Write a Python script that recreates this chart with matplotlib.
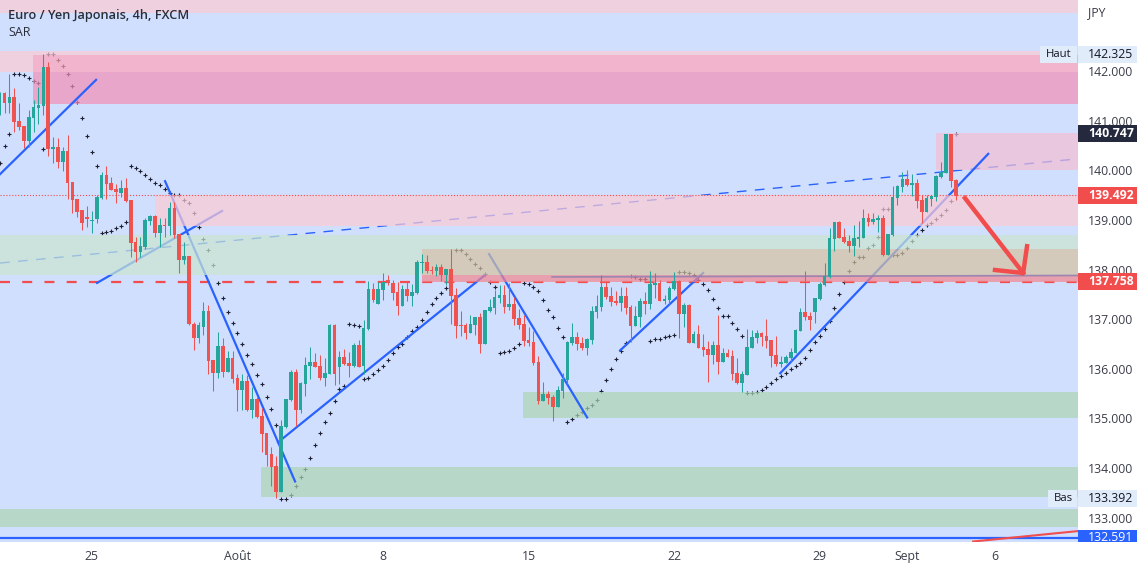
#
# Imports 
#
import numpy as np
import matplotlib.pyplot as plt

plt.rcParams['font.family'] = ['Open Sans', 'DejaVu Sans']

#
# Candle data, EUR/JPY prices, first candle has index -1
#
opens = [141.28,141.55,141.35,141.48,140.99,140.89,140.59,141.05,141.25,141.29,
         142.08,140.43,140.47,140.17,140.39,139.76,139.42,139.19,139.06,138.98,
         139.02,139.44,139.90,139.74,139.62,139.55,139.64,139.40,138.55,138.35,
         138.45,138.98,139.08,138.73,138.90,138.87,139.24,138.71,138.19,138.27,
         136.91,136.62,136.85,137.16,136.17,135.92,136.46,135.94,136.21,135.81,
         135.58,135.75,135.17,135.39,135.04,134.70,134.28,134.04,133.51,134.82,
         135.37,135.93,135.17,135.69,136.05,136.13,136.05,135.81,135.89,136.88,
         136.03,136.23,136.11,136.05,136.48,136.05,136.80,137.61,137.30,137.58,
         137.79,137.72,137.54,137.26,137.60,137.47,137.52,138.13,138.15,137.99,
         137.97,138.05,137.89,138.01,137.48,136.88,136.88,136.72,136.88,137.04,
         136.50,137.16,137.22,137.42,137.48,137.24,137.30,137.02,136.90,136.58,
         136.54,136.13,135.35,135.49,135.43,135.23,135.55,135.77,136.52,136.64,
         136.52,136.42,136.58,137.14,137.24,137.64,137.46,137.36,137.32,137.46,
         137.24,136.86,137.04,137.36,137.30,137.69,137.73,137.36,137.38,137.60,
         137.77,137.10,137.28,136.52,136.70,136.44,136.39,136.27,136.48,136.13,
         136.31,136.25,135.91,135.71,135.87,136.42,136.62,136.72,136.66,136.58,
         136.27,136.09,136.11,136.21,136.31,136.76,137.14,137.06,137.14,137.40,
         137.69,137.85,138.61,138.96,138.65,138.57,138.47,138.61,138.63,139.04,
         138.96,139.00,139.04,138.29,138.69,139.44,139.66,139.82,139.70,139.74,
         139.40,139.16,139.42,139.46,139.86,139.94,140.73,139.80]
closes = [141.55,141.36,141.48,140.97,140.87,140.59,141.07,141.27,141.31,142.08,
          140.43,140.47,140.17,140.39,139.74,139.40,139.16,138.93,139.02,139.00,
          139.46,139.90,139.72,139.60,139.56,139.64,139.38,138.53,138.35,138.47,
          138.99,139.08,138.73,138.90,138.87,139.24,138.69,138.19,138.27,136.91,
          136.62,136.88,137.16,136.16,135.92,136.46,135.94,136.21,135.80,135.58,
          135.75,135.17,135.39,135.02,134.69,134.26,134.02,133.51,134.84,135.39,
          135.93,135.17,135.71,136.07,136.13,136.03,135.81,135.91,136.88,135.89,
          136.23,136.09,136.05,136.48,136.03,136.82,137.61,137.38,137.61,137.75,
          137.72,137.53,137.26,137.60,137.47,137.54,138.15,138.15,137.97,137.97,
          138.05,137.89,138.01,137.47,136.86,136.86,136.72,136.90,137.04,136.50,
          137.18,137.24,137.44,137.48,137.24,137.30,137.00,136.88,136.56,136.52,
          136.11,135.35,135.49,135.41,135.23,135.57,135.79,136.54,136.64,136.50,
          136.42,136.60,137.16,137.26,137.64,137.44,137.34,137.32,137.46,137.22,
          136.86,137.06,137.36,137.30,137.71,137.73,137.36,137.40,137.62,137.77,
          137.10,137.28,136.52,136.70,136.42,136.38,136.27,136.48,136.13,136.31,
          136.23,135.89,135.71,135.89,136.44,136.64,136.72,136.64,136.56,136.25,
          136.09,136.13,136.23,136.34,136.78,137.14,137.04,136.98,137.42,137.70,
          137.87,138.63,138.96,138.63,138.55,138.47,138.63,138.65,139.04,138.96,
          139.02,139.04,138.29,138.71,139.46,139.68,139.82,139.70,139.74,139.38,
          139.16,139.44,139.48,139.88,139.96,140.73,139.78,139.49]
highs = [141.58,141.58,141.94,141.65,141.35,140.89,141.21,141.42,141.68,142.34,
         142.18,140.66,140.64,140.47,140.71,139.77,139.43,139.20,139.27,139.18,
         139.50,139.97,140.09,139.87,139.73,139.80,139.84,139.40,138.65,138.65,
         139.03,139.10,139.10,139.03,139.03,139.37,139.37,138.71,138.56,138.28,
         136.95,136.95,137.34,137.28,136.17,136.74,136.63,136.36,136.35,135.89,
         135.89,135.87,135.64,135.43,135.20,134.70,134.43,134.24,134.96,135.40,
         135.98,136.00,135.74,136.23,136.43,136.32,136.27,136.21,136.91,136.90,
         136.35,136.39,136.34,136.52,136.58,136.98,137.77,137.72,137.75,137.92,
         137.89,137.79,137.75,137.69,137.75,137.70,138.20,138.32,138.29,138.07,
         138.12,138.11,138.02,138.42,137.62,137.16,136.93,137.08,137.04,137.13,
         137.18,137.40,137.58,137.69,137.69,137.72,137.45,137.21,137.08,136.84,
         136.76,136.25,135.73,135.55,135.47,135.65,135.92,136.56,136.92,136.74,
         136.64,136.63,137.26,137.48,137.89,137.77,137.65,137.56,137.65,137.64,
         137.28,137.26,137.42,137.55,137.97,137.92,137.79,137.48,137.66,137.95,
         137.79,137.32,137.30,136.76,136.88,136.71,136.56,136.56,137.08,136.41,
         136.39,136.37,136.21,135.95,136.80,136.78,136.78,136.74,137.00,136.58,
         136.66,136.25,136.27,136.41,136.80,137.22,137.97,137.15,137.42,137.75,
         138.14,138.83,138.96,138.98,138.83,138.70,138.90,138.98,139.22,139.14,
         139.13,139.10,139.10,138.71,139.68,139.70,139.96,140.00,139.92,139.82,
         139.50,139.50,139.50,139.90,140.17,140.74,140.73,139.82]
lows = [141.11,141.15,141.15,140.78,140.81,140.44,140.47,140.78,140.94,141.11,
        140.29,140.14,140.05,139.98,139.43,139.13,139.06,138.79,138.86,138.74,
        138.93,139.43,139.42,139.60,139.33,139.47,139.37,138.26,138.16,138.26,
        138.42,138.90,138.66,138.46,138.65,138.69,138.63,137.93,138.12,136.88,
        136.37,136.52,136.68,135.90,135.55,135.82,135.84,135.94,135.72,135.15,
        135.17,135.15,135.01,135.00,134.32,134.04,133.63,133.39,133.51,134.81,
        135.35,134.84,135.11,135.45,135.80,136.03,135.78,135.65,135.89,135.67,
        135.69,136.07,135.84,136.04,136.03,135.90,136.78,137.35,137.30,137.38,
        137.68,137.38,137.08,137.26,137.37,137.26,137.50,137.92,137.93,137.90,
        137.87,137.77,137.69,136.90,136.62,136.66,136.60,136.72,136.68,136.32,
        136.50,137.15,137.11,137.33,137.13,137.18,136.88,136.81,136.46,136.46,
        136.07,135.29,135.35,135.30,134.95,135.23,135.41,135.69,136.48,136.37,
        136.37,136.27,136.50,137.02,137.16,137.40,137.26,137.28,137.16,137.10,
        136.54,136.86,136.84,137.11,137.20,137.42,137.36,137.30,137.30,137.58,
        136.62,136.84,136.52,136.52,136.42,136.25,135.73,136.09,135.89,136.13,
        136.23,135.77,135.69,135.53,135.87,136.42,136.52,136.46,136.42,136.04,
        136.05,136.04,136.11,136.16,136.31,136.76,136.99,136.78,136.93,137.38,
        137.67,137.82,138.38,138.63,138.54,138.35,138.27,138.46,138.63,138.87,
        138.91,138.76,138.27,138.29,138.67,139.30,139.57,139.68,139.48,139.23,
        138.93,139.16,139.28,139.38,139.85,139.94,139.67,139.40]

# Parabolic SAR, one value per candle (nan where no dot can be seen)
sar_values = [140.15,140.49,140.74,141.93,141.93,141.92,141.85,141.80,141.75,140.42,
              142.34,142.34,142.23,142.11,141.93,141.69,141.38,141.05,140.69,140.37,
              140.08,138.73,138.75,138.77,138.83,138.88,138.95,140.08,140.04,139.98,
              139.91,139.83,139.75,139.70,139.63,139.55,139.51,139.51,139.41,139.33,
              139.13,138.85,138.61,138.39,138.09,137.72,137.42,137.15,136.93,136.73,
              136.49,136.27,136.09,135.88,135.70,135.44,135.18,134.86,133.38,133.38,
              133.46,133.63,133.81,133.99,134.21,134.47,134.71,134.92,135.10,135.36,
              135.60,135.66,136.91,136.89,136.87,135.80,135.82,135.90,135.98,136.05,
              136.17,136.31,136.43,136.50,136.64,136.76,136.85,136.99,137.15,137.30,
              137.43,137.52,137.62,np.nan,138.40,138.40,138.32,138.22,138.12,138.04,
              137.90,137.74,137.65,136.31,136.33,136.35,136.41,136.49,137.72,137.70,
              137.64,137.56,137.38,137.19,137.05,136.82,136.64,134.93,134.98,135.06,
              135.12,135.20,135.28,135.38,135.56,135.78,136.00,136.19,136.35,136.51,
              137.87,137.84,137.80,137.80,136.55,136.59,136.61,136.64,136.67,136.69,
              137.95,137.94,137.92,137.88,137.79,137.70,137.58,137.40,137.23,137.07,
              137.07,136.93,136.81,136.67,135.52,135.52,135.54,135.58,135.64,135.72,
              135.80,135.86,135.92,136.00,136.05,136.11,136.21,136.37,136.53,136.67,
              136.81,136.97,137.23,137.50,137.75,137.98,138.16,138.26,138.26,138.44,
              138.50,138.65,139.21,139.21,138.29,138.30,138.34,138.44,138.57,138.69,
              138.79,138.89,138.93,139.01,139.09,139.19,139.39,140.74]

# Axis values
x_min = -0.93 # candle index at the left edge of the chart
x_max = 221.2 # candle index at the right edge of the chart
y_min = 132.51 # JPY, bottom of the chart
y_max = 143.43 # JPY, top of the chart
price_ticks = [133,134,135,136,137,138,139,140,141,142]
date_ticks = [18,48,78,108,138,168,186,204] # candle index of each date
date_labels = ['25','Août','8','15','22','29','Sept','6']

# Shaded zones drawn by hand on the chart
zone_left = [x_min,x_min,x_min,5.87,5.87,192,31,x_min,86.05,86.05,86.05,106.9,52.87,x_min]
zone_right = [x_max,x_max,5.87,x_max,x_max,x_max,x_max,86.05,x_max,x_max,x_max,x_max,x_max,x_max]
zone_low = [143.17,142.32,141.98,141.98,141.33,140.0,138.875,137.89,138.41,137.89,137.746,135.0,133.41,132.81]
zone_high = [143.43,142.40,142.32,142.32,141.98,140.75,139.5,138.69,138.69,138.41,137.89,135.53,134.02,133.17]
zone_colors = ['#fdcad3','#fdcad3','#fdcad3','#ffa2b8','#f28eb4','#f2bed3','#fdcad3',
               '#cbe6cf','#cbe6cf','#d5c2a1','#f3858d','#acd5b2','#acd5b2','#acd5b2']
zone_order = [2,2,2,2,2,2,4,4,4,4,4,2,2,2] # some zones lie over the trend lines, some under

# Trend lines, (start index, end index, start price, end price)
line_x0 = [x_min,33.08,19.06,56.37,99.85,126.85,159.83]
line_x1 = [18.86,59.87,44.83,99.03,120.05,143.96,202.7]
line_y0 = [139.92,139.78,137.73,134.52,138.31,136.37,135.91]
line_y1 = [141.82,133.73,139.18,137.89,135.02,137.93,140.33]

# Price labels on the right, (price, text, box colour, text colour)
box_prices = [142.325,140.747,139.492,137.758,133.392]
box_labels = ['142.325','140.747','139.492','137.758','133.392']
box_colors = ['#e1ecfa','#24293e','#f24d4d','#f24d4d','#e1ecfa']
box_text_colors = ['#131722','white','white','white','#131722']

x_values = np.arange(-1,len(opens)-1) # candle index
o_values = np.array(opens)
c_values = np.array(closes)
candle_colors = np.where(c_values >= o_values,'#26a69a','#ef5350') # green up, red down

#
# Plotting the results
#
fig = plt.figure(figsize=(11.42,5.70),dpi=100)
ax=plt.axes([0,28/570,1078/1142,542/570])    # This creates some axes
ax.set_facecolor('#d1dffe')
ax.set_xlim(x_min,x_max)
ax.set_ylim(y_min,y_max)

for side in ax.spines:
    ax.spines[side].set_visible(False)

ax.yaxis.tick_right()
ax.set_yticks(price_ticks)
ax.set_yticklabels(['%.3f' % p for p in price_ticks])
ax.set_xticks(date_ticks)
ax.set_xticklabels(date_labels)
ax.tick_params(axis='y',length=0,pad=7.2,labelsize=8.8,labelcolor='#3a3e4a')
ax.tick_params(axis='x',length=0,pad=5.5,labelsize=8.8,labelcolor='#3a3e4a')

ax.plot(x_values,sar_values,linestyle='none',marker='+',markersize=3,markeredgewidth=0.8,color='#1c2030',zorder=1) # SAR dots
ax.plot([x_min,x_max],[138.13,140.23],color='#2962ff',linewidth=1,dashes=(7,6),zorder=1.5) # long dashed trend line

for i in range(len(zone_low)):
    ax.fill_between([zone_left[i],zone_right[i]],zone_low[i],zone_high[i],color=zone_colors[i],alpha=0.7,linewidth=0,zorder=zone_order[i])

ax.plot([x_min,x_max],[137.758,137.758],color='#f24d4d',linewidth=1.6,dashes=(4.5,5.5),zorder=3) # last low line
ax.plot([112.83,x_max],[137.85,137.88],color='#9a86b0',linewidth=1.2,zorder=4.5)
ax.plot([x_min,x_max],[139.492,139.492],color='#f24d4d',linewidth=0.8,linestyle=':',zorder=4.5) # last price line
ax.plot([x_min,x_max],[132.591,132.591],color='#2962ff',linewidth=1.6,zorder=4.5)
ax.plot([199.6,x_max],[132.52,132.73],color='#f24d4d',linewidth=1.5,zorder=5)

for i in range(len(line_x0)):
    ax.plot([line_x0[i],line_x1[i]],[line_y0[i],line_y1[i]],color='#2962ff',linewidth=1.6,zorder=3)

ax.vlines(x_values,lows,highs,colors=candle_colors,linewidth=0.75,zorder=5) # candle wicks
ax.bar(x_values,c_values-o_values,bottom=o_values,width=0.75,color=candle_colors,linewidth=0,zorder=5.5) # candle bodies

# Red arrow pointing down to the support
ax.plot([197.9,209.9],[139.44,137.93],color='#f24d4d',linewidth=3.2,zorder=6)
ax.plot([204.1,209.9,210.7],[137.99,137.93,138.47],color='#f24d4d',linewidth=3.2,zorder=6)

# Title in the top left corner
ax.text(0.72,143.11,'Euro / Yen Japonais, 4h, FXCM',fontsize=9.2,fontweight='semibold',color='#2a2e39',va='center',zorder=8)
ax.text(0.72,142.77,'SAR',fontsize=9,color='#2a2e39',va='center',zorder=8)

# Price labels
ax.text(223.2,143.17,'JPY',fontsize=8.8,color='#3a3e4a',va='center',clip_on=False)
for i in range(len(box_prices)):
    ax.fill_between([x_max,233.4],box_prices[i]-0.171,box_prices[i]+0.171,color=box_colors[i],linewidth=0,clip_on=False,zorder=7)
    ax.text(223.3,box_prices[i],box_labels[i],fontsize=8.8,color=box_text_colors[i],va='center',clip_on=False,zorder=8,
            fontweight='bold' if box_text_colors[i] == 'white' else 'normal')
ax.fill_between([x_max,233.4],y_min,132.75,color='#2962ff',linewidth=0,clip_on=False,zorder=7)
ax.text(223.3,132.60,'132.591',fontsize=8.8,color='white',va='center',clip_on=False,zorder=8)

# Haut and Bas tags next to the price axis
ax.fill_between([213.3,x_max-0.2],142.154,142.496,color='#e1ecfa',linewidth=0,zorder=7)
ax.text(217.3,142.325,'Haut',fontsize=8.2,color='#131722',ha='center',va='center',zorder=8)
ax.fill_between([215,x_max-0.2],133.221,133.563,color='#e1ecfa',linewidth=0,zorder=7)
ax.text(218.2,133.392,'Bas',fontsize=8.2,color='#131722',ha='center',va='center',zorder=8)

plt.savefig('out.png',dpi=100)
